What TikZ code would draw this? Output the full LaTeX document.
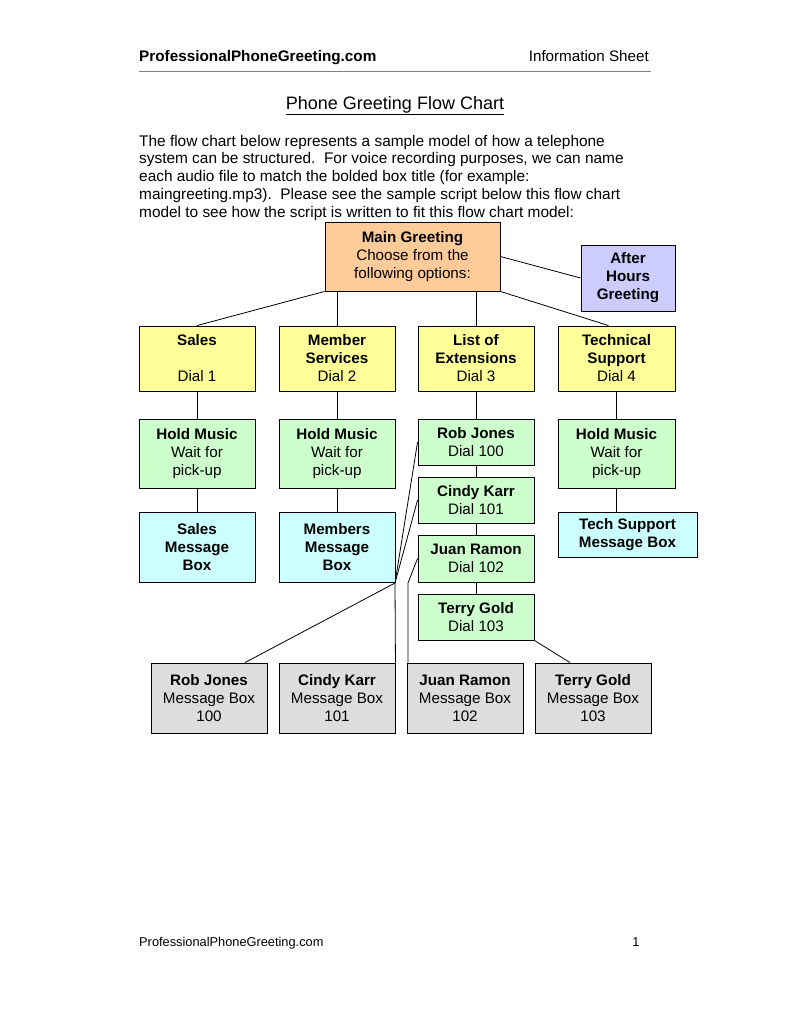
\documentclass[tikz,border=0pt]{standalone}
\usepackage{fontspec}
\setmainfont{Liberation Sans}
\definecolor{peach}{HTML}{FFCC99}
\definecolor{lavender}{HTML}{CCCCFF}
\definecolor{lemon}{HTML}{FFFF99}
\definecolor{mint}{HTML}{CCFFCC}
\definecolor{aqua}{HTML}{CCFFFF}
\definecolor{silver}{HTML}{DDDDDD}
\begin{document}
\begin{tikzpicture}[x=1pt,y=-1pt,every node/.style={font=\fontsize{15.2}{18}\selectfont},box/.style={draw,line width=0.9pt,align=center,inner sep=0pt,minimum width=116pt,minimum height=46pt},txt/.style={inner sep=0pt},link/.style={line width=0.8pt}]
\fill[white] (0,0) rectangle (791,1023); \useasboundingbox (0,0) rectangle (791,1023);
% header, title and intro
\node[txt,anchor=base west,font=\fontsize{15.3}{18}\selectfont\bfseries] (site) at (139,61) {ProfessionalPhoneGreeting.com};
\node[txt,anchor=base east] (sheet) at (649,61) {Information Sheet};
\draw[gray,line width=0.8pt] (139,71) -- (651,71);
\node[txt,anchor=base,font=\fontsize{18}{21}\selectfont] (title) at (395,109) {\underline{Phone Greeting Flow Chart}};
\node[txt,anchor=base west,align=left,font=\fontsize{15.4}{17.7}\selectfont] (intro) at (139,217) {The flow chart below represents a sample model of how a telephone\\system can be structured.\ \ For voice recording purposes, we can name\\each audio file to match the bolded box title (for example:\\maingreeting.mp3).\ \ Please see the sample script below this flow chart\\model to see how the script is written to fit this flow chart model:};
% boxes
\node[box,fill=peach,minimum width=175pt,minimum height=69pt] (main) at (412.5,256.5) {\textbf{Main Greeting}\\Choose from the\\following options:};
\node[box,fill=lavender,minimum width=94pt,minimum height=66pt] (after) at (628,278) {\textbf{After}\\\textbf{Hours}\\\textbf{Greeting}};
\node[box,fill=lemon,minimum height=65pt] (sales) at (197,358.5) {\textbf{Sales}\\~\\Dial 1};
\node[box,fill=lemon,minimum height=65pt] (member) at (337,358.5) {\textbf{Member}\\\textbf{Services}\\Dial 2};
\node[box,fill=lemon,minimum height=65pt] (list) at (476,358.5) {\textbf{List of}\\\textbf{Extensions}\\Dial 3};
\node[box,fill=lemon,minimum width=117pt,minimum height=65pt] (tech) at (616.5,358.5) {\textbf{Technical}\\\textbf{Support}\\Dial 4};
\node[box,fill=mint,minimum height=69pt] (hold1) at (197,453.5) {\textbf{Hold Music}\\Wait for\\pick-up};
\node[box,fill=mint,minimum height=69pt] (hold2) at (337,453.5) {\textbf{Hold Music}\\Wait for\\pick-up};
\node[box,fill=mint,minimum width=117pt,minimum height=69pt] (hold4) at (616.5,453.5) {\textbf{Hold Music}\\Wait for\\pick-up};
\node[box,fill=aqua,minimum height=70pt] (salesmb) at (197,547) {\textbf{Sales}\\\textbf{Message}\\\textbf{Box}};
\node[box,fill=aqua,minimum height=70pt] (membersmb) at (337,547) {\textbf{Members}\\\textbf{Message}\\\textbf{Box}};
\node[box,fill=aqua,minimum width=139pt,minimum height=45pt] (techmb) at (627.5,534.5) {\textbf{Tech Support}\\\textbf{Message Box}};
\node[box,fill=mint] (rob) at (476,442) {\textbf{Rob Jones}\\Dial 100};
\node[box,fill=mint] (cindy) at (476,500) {\textbf{Cindy Karr}\\Dial 101};
\node[box,fill=mint,minimum height=47pt] (juan) at (476,558.5) {\textbf{Juan Ramon}\\Dial 102};
\node[box,fill=mint] (terry) at (476,617) {\textbf{Terry Gold}\\Dial 103};
\node[box,fill=silver,minimum height=70pt] (robmb) at (209,698) {\textbf{Rob Jones}\\Message Box\\100};
\node[box,fill=silver,minimum height=70pt] (cindymb) at (337,698) {\textbf{Cindy Karr}\\Message Box\\101};
\node[box,fill=silver,minimum height=70pt] (juanmb) at (465,698) {\textbf{Juan Ramon}\\Message Box\\102};
\node[box,fill=silver,minimum height=70pt] (terrymb) at (593,698) {\textbf{Terry Gold}\\Message Box\\103};
\coordinate (hub) at (395,583); \coordinate (jbend) at (408,583);
% connectors
\draw[link] (main.south west) -- (sales.north); \draw[link] (main.south -| member.north) -- (member.north);
\draw[link] (main.south -| list.north) -- (list.north); \draw[link] (main.south east) -- ([xshift=-8pt]tech.north);
\draw[link] (main.east) -- (after.west);
\draw[link] (sales) -- (hold1); \draw[link] (hold1) -- (salesmb);
\draw[link] (member) -- (hold2); \draw[link] (hold2) -- (membersmb);
\draw[link] (tech) -- (hold4); \draw[link] (hold4.south) -- (hold4.south |- techmb.north);
\draw[link] (list) -- (rob); \draw[link] (rob) -- (cindy); \draw[link] (cindy) -- (juan); \draw[link] (juan) -- (terry);
\draw[link] (rob.west) -- (hub); \draw[link] (cindy.west) -- (hub);
\draw[link] (juan.west) -- (jbend) -- (jbend |- juanmb.north);
\draw[link] (hub) -- ([xshift=36pt]robmb.north); \draw[link] (hub) -- (cindymb.north east);
\draw[link] (terry.south east) -- ([xshift=-23pt]terrymb.north);
% footer
\node[txt,anchor=base west,font=\fontsize{12.8}{15}\selectfont] (foot) at (139,946) {ProfessionalPhoneGreeting.com};
\node[txt,anchor=base,font=\fontsize{12.8}{15}\selectfont] (page) at (636,946) {1};
\end{tikzpicture}
\end{document}
